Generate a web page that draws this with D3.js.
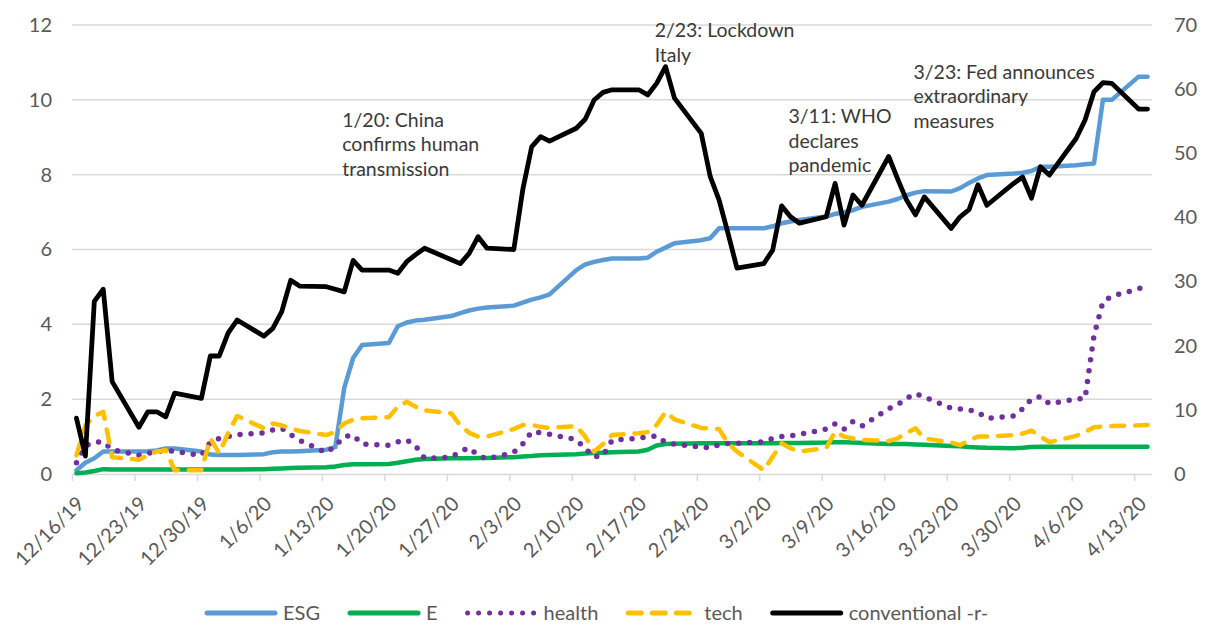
<!DOCTYPE html>
<html><head><meta charset="utf-8">
<script src="https://cdn.jsdelivr.net/npm/d3@7"></script>
<style>
html,body{margin:0;padding:0;background:#fff;}
svg{display:block;font-family:Lato,"Open Sans",sans-serif;}
</style></head>
<body><svg id="c" width="1207" height="626"></svg>
<script>
// ---- data ----
const dates = [
 "12/16/19","12/17/19","12/18/19","12/19/19","12/20/19",
 "12/23/19","12/24/19","12/25/19","12/26/19","12/27/19",
 "12/30/19","12/31/19","1/1/20","1/2/20","1/3/20",
 "1/6/20","1/7/20","1/8/20","1/9/20","1/10/20",
 "1/13/20","1/14/20","1/15/20","1/16/20","1/17/20",
 "1/20/20","1/21/20","1/22/20","1/23/20","1/24/20",
 "1/27/20","1/28/20","1/29/20","1/30/20","1/31/20",
 "2/3/20","2/4/20","2/5/20","2/6/20","2/7/20",
 "2/10/20","2/11/20","2/12/20","2/13/20","2/14/20",
 "2/17/20","2/18/20","2/19/20","2/20/20","2/21/20",
 "2/24/20","2/25/20","2/26/20","2/27/20","2/28/20",
 "3/2/20","3/3/20","3/4/20","3/5/20","3/6/20",
 "3/9/20","3/10/20","3/11/20","3/12/20","3/13/20",
 "3/16/20","3/17/20","3/18/20","3/19/20","3/20/20",
 "3/23/20","3/24/20","3/25/20","3/26/20","3/27/20",
 "3/30/20","3/31/20","4/1/20","4/2/20","4/3/20",
 "4/6/20","4/7/20","4/8/20","4/9/20","4/10/20",
 "4/13/20","4/14/20"];

const esg = [
 0.1,0.3,0.42,0.6,0.6,  0.6,0.61,0.63,0.68,0.68,  0.6,0.52,0.51,0.51,0.51,
 0.53,0.58,0.6,0.6,0.61,  0.65,0.72,2.3,3.1,3.45,  3.5,3.95,4.05,4.1,4.12,
 4.22,4.3,4.37,4.42,4.45,  4.5,4.58,4.66,4.72,4.8,  5.45,5.6,5.67,5.72,5.76,
 5.76,5.78,5.94,6.05,6.17,  6.25,6.3,6.57,6.57,6.57,  6.57,6.62,6.7,6.75,6.79,
 6.88,6.95,7.0,7.05,7.14,  7.28,7.35,7.45,7.52,7.56,  7.55,7.64,7.78,7.9,7.99,
 8.03,8.05,8.1,8.21,8.21,  8.25,8.28,8.3,10.0,10.0,  10.62,10.62];

const e = [
 0.02,0.04,0.08,0.13,0.12,  0.12,0.12,0.12,0.12,0.12,  0.12,0.12,0.12,0.12,0.12,
 0.13,0.14,0.15,0.16,0.17,  0.18,0.2,0.24,0.26,0.26,  0.27,0.3,0.34,0.38,0.4,
 0.42,0.42,0.42,0.43,0.43,  0.45,0.47,0.48,0.5,0.51,  0.53,0.55,0.56,0.57,0.58,
 0.6,0.65,0.76,0.8,0.81,  0.82,0.82,0.82,0.82,0.82,  0.82,0.82,0.83,0.83,0.83,
 0.84,0.85,0.85,0.84,0.83,  0.8,0.8,0.8,0.79,0.78,  0.75,0.74,0.72,0.71,0.7,
 0.69,0.7,0.72,0.73,0.73,  0.73,0.73,0.73,0.73,0.73,  0.73,0.73];

const health = [
 0.3,0.75,0.85,0.86,0.65,  0.5,0.55,0.6,0.64,0.6,  0.5,0.85,0.95,1.0,1.05,
 1.1,1.18,1.22,1.05,0.9,  0.57,0.75,1.0,1.04,0.8,  0.77,0.86,0.91,0.75,0.42,
 0.45,0.6,0.7,0.5,0.4,  0.58,0.8,1.13,1.1,1.06,  0.92,0.68,0.45,0.5,0.9,
 0.96,0.99,1.02,0.84,0.8,  0.72,0.7,0.78,0.82,0.82,  0.86,0.95,1.0,1.02,1.06,
 1.2,1.34,1.2,1.4,1.28,  1.75,1.85,2.02,2.15,2.06,  1.76,1.74,1.71,1.65,1.49,
 1.55,1.74,2.0,2.07,1.88,  2.0,2.02,3.7,4.6,4.75,  4.95,5.05];

const tech = [
 0.5,1.3,1.55,1.66,0.45,  0.38,0.5,0.6,0.64,0.1,  0.1,0.95,0.55,1.1,1.55,
 1.22,1.35,1.3,1.22,1.15,  1.04,1.12,1.35,1.45,1.49,  1.52,1.8,1.93,1.8,1.7,
 1.62,1.3,1.1,1.0,1.0,  1.2,1.31,1.31,1.26,1.23,  1.28,1.0,0.6,0.8,1.04,
 1.09,1.12,1.31,1.66,1.46,  1.23,1.22,1.2,0.82,0.6,  0.1,0.46,0.82,0.69,0.6,
 0.7,1.13,1.0,0.95,0.91,  0.88,0.95,1.1,1.22,0.95,  0.84,0.77,0.9,1.0,1.0,
 1.04,1.08,1.16,1.0,0.85,  1.02,1.12,1.25,1.27,1.28,  1.3,1.31];

const conventional = [
 8.7,2.8,26.9,28.8,14.4,  7.3,9.7,9.7,8.9,12.6,  11.8,18.4,18.4,22.0,24.0,
 21.5,22.7,25.3,30.2,29.3,  29.2,28.8,28.4,33.3,31.8,  31.8,31.3,33.1,34.2,35.2,
 33.4,32.8,34.4,37.0,35.2,  35.0,44.3,51.0,52.6,51.9,  53.9,55.3,58.3,59.5,59.9,
 59.9,59.1,60.9,63.5,58.6,  53.1,46.4,42.7,37.5,32.1,  32.8,34.9,41.8,40.1,39.1,
 40.1,45.3,38.8,43.5,41.9,  49.5,46.0,42.7,40.4,43.2,  38.3,40.1,41.2,45.1,41.9,
 45.3,46.3,43.0,47.9,46.6,  52.3,55.2,59.6,61.0,60.9,  56.9,56.9];

const leftTicks = [0,2,4,6,8,10,12];
const rightTicks = [0,10,20,30,40,50,60,70];
const xTickLabels = ["12/16/19","12/23/19","12/30/19","1/6/20","1/13/20","1/20/20","1/27/20",
 "2/3/20","2/10/20","2/17/20","2/24/20","3/2/20","3/9/20","3/16/20","3/23/20","3/30/20","4/6/20","4/13/20"];
const axisStart = "12/16/19", axisEnd = "4/15/20";

// annotation anchors: date on x axis, value on the left axis
const annotations = [
 {date:"1/15/20", lines:["1/20: China","confirms human","transmission"], v:9.28},
 {date:"2/19/20", lines:["2/23: Lockdown","Italy"], v:11.67},
 {date:"3/5/20",  lines:["3/11: WHO","declares","pandemic"], v:9.37},
 {date:"3/19/20", lines:["3/23: Fed announces","extraordinary","measures"], v:10.57}
];

// ---- chart ----
const parse = d3.timeParse("%m/%d/%y");
const svg = d3.select("#c");
const L = 72, R = 1152, T = 25, B = 474;
const x = d3.scaleTime().domain([parse(axisStart), parse(axisEnd)]).range([L, R]);
const yL = d3.scaleLinear().domain([0,12]).range([B,T]);
const yR = d3.scaleLinear().domain([0,70]).range([B,T]);
const pos = s => { const d = parse(s); return x(new Date(d.getTime() + 12*3600*1000)); };

const gridCol = "#d9d9d9", txtCol = "#595959";

svg.append("g").selectAll("line").data(leftTicks.slice(1)).join("line")
  .attr("x1", L).attr("x2", R).attr("y1", d=>yL(d)).attr("y2", d=>yL(d))
  .attr("stroke", gridCol).attr("stroke-width", 1.5);

const la = svg.append("g").attr("transform", `translate(${L-20},0)`)
  .call(d3.axisLeft(yL).tickValues(leftTicks).tickSize(0).tickPadding(0).tickFormat(d3.format("d")));
la.select(".domain").remove();
la.selectAll("text").attr("font-size", 20).attr("fill", txtCol).attr("font-family","Lato");

const ra = svg.append("g").attr("transform", `translate(${R+22},0)`)
  .call(d3.axisRight(yR).tickValues(rightTicks).tickSize(0).tickPadding(0).tickFormat(d3.format("d")));
ra.select(".domain").remove();
ra.selectAll("text").attr("font-size", 20).attr("fill", txtCol).attr("font-family","Lato");

const xa = svg.append("g").attr("transform", `translate(0,${B})`)
  .call(d3.axisBottom(x).tickValues(xTickLabels.map(parse)).tickSize(7).tickFormat(d3.timeFormat("%-m/%-d/%y")));
xa.select(".domain").attr("stroke", gridCol).attr("stroke-width", 1.5).attr("d", `M${L},0.5H${R}`);
xa.selectAll(".tick line").attr("stroke", gridCol).attr("stroke-width", 1.5);
xa.selectAll(".tick text").attr("font-size", 20).attr("fill", txtCol).attr("font-family","Lato")
  .attr("text-anchor","end").attr("dy", null).attr("y", 0)
  .attr("transform", "translate(13,31) rotate(-45)");

const series = [
 {name:"E", vals:e, y:yL, color:"#00b050", w:4.5, dash:null},
 {name:"ESG", vals:esg, y:yL, color:"#5b9bd5", w:4.5, dash:null},
 {name:"tech", vals:tech, y:yL, color:"#ffc000", w:4.5, dash:"13,11"},
 {name:"health", vals:health, y:yL, color:"#7030a0", w:5.5, dash:"0,11"},
 {name:"conventional -r-", vals:conventional, y:yR, color:"#000000", w:4.8, dash:null}
];
const drawOrder = ["ESG","E","health","tech","conventional -r-"];
drawOrder.forEach(n => {
  const s = series.find(q=>q.name===n);
  const line = d3.line().x((d,i)=>pos(dates[i])).y(d=>s.y(d));
  svg.append("path").attr("d", line(s.vals)).attr("fill","none")
    .attr("stroke", s.color).attr("stroke-width", s.w)
    .attr("stroke-linejoin","round").attr("stroke-linecap","round")
    .attr("stroke-dasharray", s.dash);
});

annotations.forEach(a => {
  const ax = pos(a.date) - 2;
  const t = svg.append("text").attr("x", ax).attr("y", yL(a.v))
    .attr("font-size", 19.5).attr("fill", "#3a3a3a").attr("font-family","Lato");
  a.lines.forEach((ln,i) => t.append("tspan").attr("x", ax).attr("dy", i===0?0:24.5).text(ln));
});

const legendOrder = ["ESG","E","health","tech","conventional -r-"];
const lg = svg.append("g");
let lx = 205; const ly = 613;
legendOrder.forEach(n => {
  const s = series.find(q=>q.name===n);
  lg.append("line").attr("x1", lx+2).attr("x2", lx+70).attr("y1", ly).attr("y2", ly)
    .attr("stroke", s.color).attr("stroke-width", 5).attr("stroke-linecap","round")
    .attr("stroke-dasharray", s.dash);
  const t = lg.append("text").attr("x", lx+78).attr("y", ly+7).attr("font-size", 20)
    .attr("fill", txtCol).attr("font-family","Lato").text(n);
  lx += 78 + t.node().getComputedTextLength() + 28;
});
</script></body></html>
